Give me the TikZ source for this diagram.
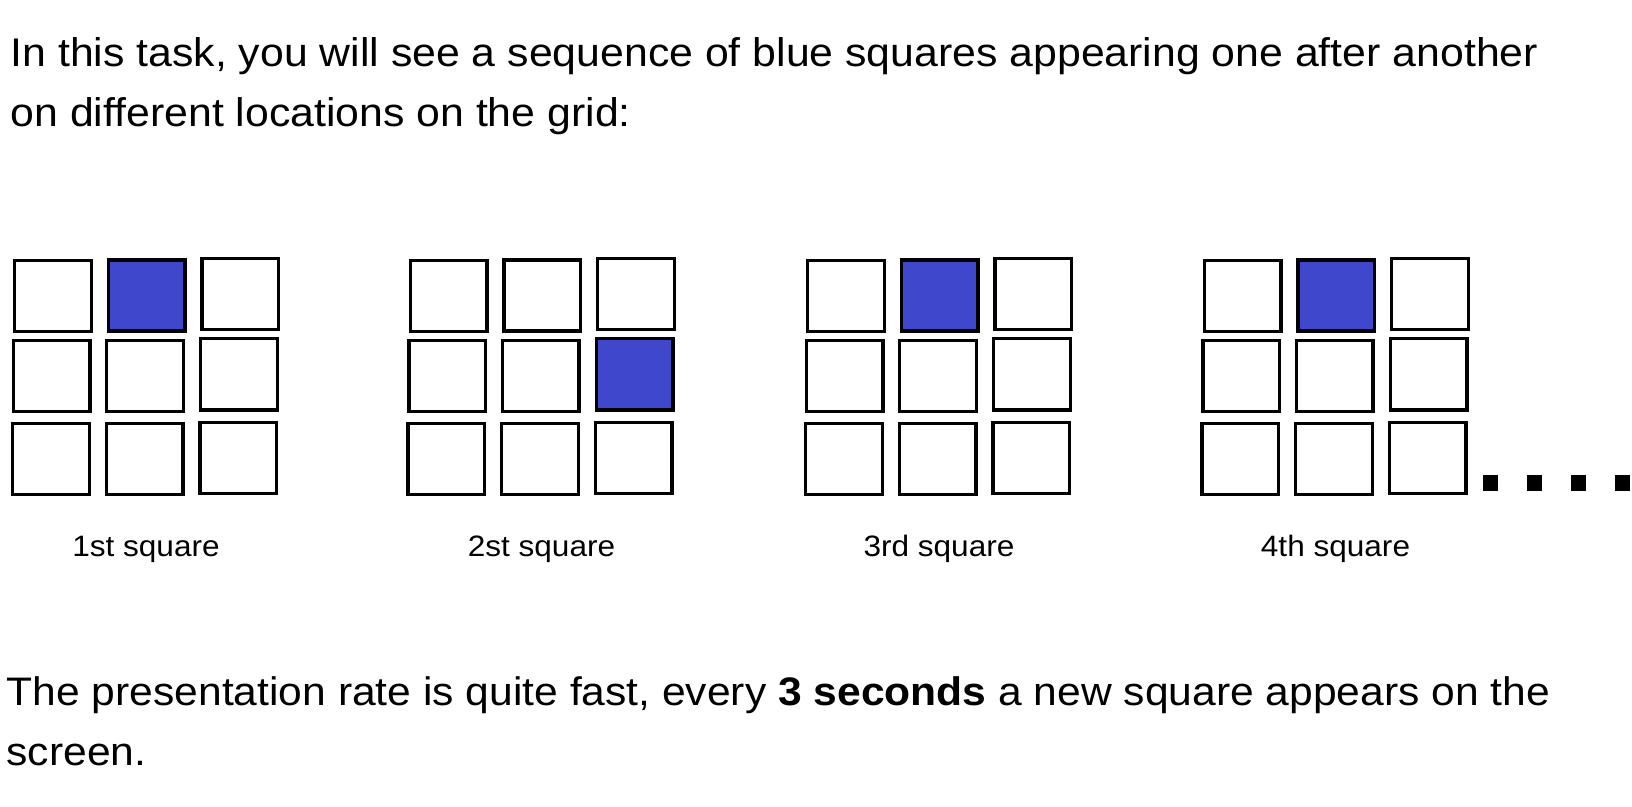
\documentclass[tikz,border=0pt]{standalone}
\usepackage{fontspec}
\setmainfont{Liberation Sans}[FakeStretch=1.07]
\definecolor{sqblue}{RGB}{63,72,204}
\begin{document}
\begin{tikzpicture}[x=1pt,y=-1pt,
  cell/.style={draw=black, line width=3.3pt, minimum width=76.7pt, minimum height=71.2pt, inner sep=0pt, fill=white},
  hit/.style={cell, fill=sqblue},
  dotsq/.style={fill=black, minimum width=15pt, minimum height=16pt, inner sep=0pt},
  maintext/.style={anchor=base west, inner sep=0pt, font=\fontsize{40}{48}\selectfont},
  lowtext/.style={anchor=base west, inner sep=0pt, font=\fontsize{39.8}{48}\selectfont},
  gridcaption/.style={anchor=base, inner sep=0pt, font=\fontsize{29.5}{36}\selectfont}]
\useasboundingbox (0,0) rectangle (1632,806);
\node[maintext] (intro1) at (10.4,66.7) {In this task, you will see a sequence of blue squares appearing one after another};
\node[maintext] (intro2) at (10.4,126) {on different locations on the grid:};
\foreach \g/\dx/\br/\bc/\cap in {1/0/1/2/1st square, 2/395.5/2/3/2st square, 3/793/1/2/3rd square, 4/1189.5/1/2/4th square} {
  \foreach \r/\c/\cx/\cy in {1/1/53/295.8, 1/2/146.7/295.5, 1/3/240.3/294.2,
                             2/1/51.7/375.8, 2/2/145/375.8, 2/3/239/374.3,
                             3/1/50.8/459.2, 3/2/144.5/459.2, 3/3/238.2/457.8} {
    \def\st{cell}
    \ifnum\r=\br\relax\ifnum\c=\bc\relax\def\st{hit}\fi\fi
    \node[\st] (g\g-\r\c) at (\cx+\dx,\cy) {};
  }
  \node[gridcaption] (cap\g) at (146+\dx,556) {\cap};
}
\foreach \i/\x in {1/1490.8,2/1534.8,3/1578.8,4/1622.6}
  \node[dotsq] (dot\i) at (\x,482.5) {};
\node[lowtext] (rate1) at (6.5,705) {The presentation rate is quite fast, every \textbf{3 seconds} a new square appears on the};
\node[lowtext] (rate2) at (6.5,765) {screen.};
\end{tikzpicture}
\end{document}
